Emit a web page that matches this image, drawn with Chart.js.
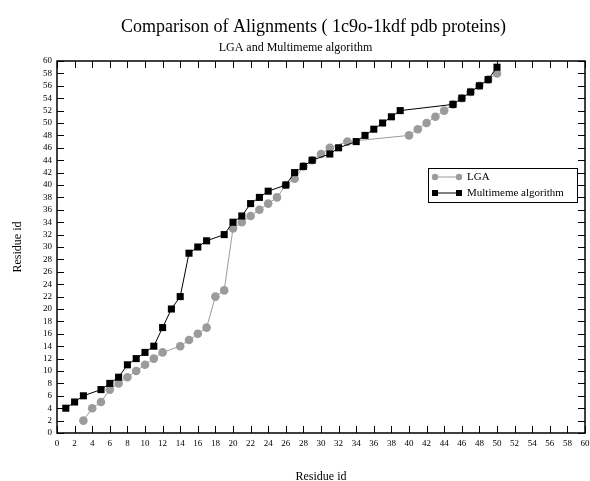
<!DOCTYPE html>
<html>
<head>
<meta charset="utf-8">
<script src="https://cdnjs.cloudflare.com/ajax/libs/Chart.js/4.4.0/chart.umd.min.js"></script>
<style>
  html, body { margin: 0; padding: 0; background: #fff; }
  #wrap { width: 590px; height: 481px; position: relative; }
</style>
</head>
<body>
<div id="wrap"><canvas id="alignChart"></canvas></div>
<script>
// LGA alignment (residue of 1c9o -> residue of 1kdf)
const lgaX = [3, 4, 5, 6, 7, 8, 9, 10, 11, 12, 14, 15, 16, 17, 18, 19, 20, 21, 22, 23, 24, 25, 26, 27, 28, 29, 30, 31, 33, 40, 41, 42, 43, 44, 45, 46, 47, 48, 49, 50];
const lgaY = [2, 4, 5, 7, 8, 9, 10, 11, 12, 13, 14, 15, 16, 17, 22, 23, 33, 34, 35, 36, 37, 38, 40, 41, 43, 44, 45, 46, 47, 48, 49, 50, 51, 52, 53, 54, 55, 56, 57, 58];

// Multimeme alignment
const mmX = [1, 2, 3, 5, 6, 7, 8, 9, 10, 11, 12, 13, 14, 15, 16, 17, 19, 20, 21, 22, 23, 24, 26, 27, 28, 29, 31, 32, 34, 35, 36, 37, 38, 39, 45, 46, 47, 48, 49, 50];
const mmY = [4, 5, 6, 7, 8, 9, 11, 12, 13, 14, 17, 20, 22, 29, 30, 31, 32, 34, 35, 37, 38, 39, 40, 42, 43, 44, 45, 46, 47, 48, 49, 50, 51, 52, 53, 54, 55, 56, 57, 59];

const seriesNames = ["LGA", "Multimeme algorithm"];
const axisMin = 0;
const axisMax = 60;
const tickStep = 2;

const serif = "'Liberation Serif', 'DejaVu Serif', serif";
const GRAY = "rgb(155,155,155)";

function toPoints(xs, ys) {
  return xs.map((x, i) => ({ x: x, y: ys[i] }));
}

// main title sits a bit right of the subtitle in the original
const shiftTitle = {
  id: "shiftTitle",
  afterLayout(chart) {
    if (chart.titleBlock) chart.titleBlock.left += 36;
  }
};

// frame + inward tick marks on all four sides
const frameTicks = {
  id: "frameTicks",
  afterDatasetsDraw(chart) {
    const { ctx, chartArea: a, scales } = chart;
    const len = 7;
    ctx.save();
    ctx.strokeStyle = "#000";
    ctx.lineWidth = 1;
    ctx.beginPath();
    for (let v = axisMin; v <= axisMax; v += tickStep) {
      const px = Math.round(scales.x.getPixelForValue(v)) + 0.5;
      ctx.moveTo(px, a.bottom); ctx.lineTo(px, a.bottom - len);
      ctx.moveTo(px, a.top); ctx.lineTo(px, a.top + len);
      const py = Math.round(scales.y.getPixelForValue(v)) + 0.5;
      ctx.moveTo(a.left, py); ctx.lineTo(a.left + len, py);
      ctx.moveTo(a.right, py); ctx.lineTo(a.right - len, py);
    }
    ctx.stroke();
    ctx.lineWidth = 1.5;
    ctx.strokeRect(a.left, a.top, a.right - a.left, a.bottom - a.top);
    ctx.restore();
  }
};

// boxed legend inside the plot
const boxLegend = {
  id: "boxLegend",
  afterDraw(chart) {
    const { ctx } = chart;
    const bx = 428, by = 168, bw = 149, bh = 34;
    ctx.save();
    ctx.fillStyle = "#fff";
    ctx.fillRect(bx, by, bw, bh);
    ctx.strokeStyle = "#000";
    ctx.lineWidth = 1;
    ctx.strokeRect(bx + 0.5, by + 0.5, bw, bh);
    const rows = [
      { y: by + 9, color: GRAY, shape: "circle" },
      { y: by + 25, color: "#000", shape: "rect" }
    ];
    rows.forEach((r, i) => {
      ctx.strokeStyle = r.color;
      ctx.fillStyle = r.color;
      ctx.lineWidth = 1;
      ctx.beginPath();
      ctx.moveTo(bx + 7, r.y); ctx.lineTo(bx + 31, r.y);
      ctx.stroke();
      [bx + 7, bx + 31].forEach(px => {
        ctx.beginPath();
        if (r.shape === "circle") {
          ctx.arc(px, r.y, 3.2, 0, Math.PI * 2);
        } else {
          ctx.rect(px - 3, r.y - 3, 6, 6);
        }
        ctx.fill();
      });
      ctx.fillStyle = "#000";
      ctx.font = "11px " + serif;
      ctx.textBaseline = "middle";
      ctx.fillText(seriesNames[i], bx + 39, r.y + 0.5);
    });
    ctx.restore();
  }
};

new Chart(document.getElementById("alignChart").getContext("2d"), {
  type: "line",
  data: {
    datasets: [
      {
        label: seriesNames[0],
        data: toPoints(lgaX, lgaY),
        borderColor: GRAY,
        backgroundColor: GRAY,
        borderWidth: 1,
        pointStyle: "circle",
        pointRadius: 4.3,
        pointBorderWidth: 0,
        tension: 0,
        order: 2,
      },
      {
        label: seriesNames[1],
        data: toPoints(mmX, mmY),
        borderColor: "#000",
        backgroundColor: "#000",
        borderWidth: 1,
        pointStyle: "rect",
        pointRadius: 5,
        pointBorderWidth: 0,
        tension: 0,
        order: 1,
      },
    ],
  },
  options: {
    responsive: true,
    maintainAspectRatio: false,
    animation: false,
    layout: { padding: { top: 16, left: 0, right: -1, bottom: 0 } },
    plugins: {
      legend: { display: false },
      tooltip: { enabled: false },
      title: {
        display: true,
        text: "Comparison of Alignments ( 1c9o-1kdf pdb proteins)",
        color: "#000",
        font: { family: serif, size: 18, weight: "normal" },
        padding: { top: 0, bottom: 3 },
      },
      subtitle: {
        display: true,
        text: "LGA and Multimeme algorithm",
        color: "#000",
        font: { family: serif, size: 12, weight: "normal" },
        padding: { top: 0, bottom: 6 },
      },
    },
    scales: {
      x: {
        type: "linear",
        min: axisMin,
        max: axisMax,
        grid: { display: false, drawTicks: false },
        border: { display: false },
        ticks: {
          stepSize: tickStep,
          autoSkip: false,
          maxRotation: 0,
          color: "#000",
          padding: 5,
          font: { family: serif, size: 9 },
        },
        title: {
          display: true,
          text: "Residue id",
          color: "#000",
          font: { family: serif, size: 12 },
          padding: { top: 18, bottom: -3 },
        },
        afterFit(s) { s.paddingRight = 0; s.height = 48; },
      },
      y: {
        type: "linear",
        min: axisMin,
        max: axisMax,
        grid: { display: false, drawTicks: false },
        border: { display: false },
        ticks: {
          stepSize: tickStep,
          autoSkip: false,
          color: "#000",
          padding: 5,
          font: { family: serif, size: 9 },
        },
        title: {
          display: true,
          text: "Residue id",
          color: "#000",
          font: { family: serif, size: 12 },
          padding: { top: 11, bottom: 0 },
        },
        afterFit(s) { s.width = 57; },
      },
    },
  },
  plugins: [shiftTitle, frameTicks, boxLegend],
});
</script>
</body>
</html>
